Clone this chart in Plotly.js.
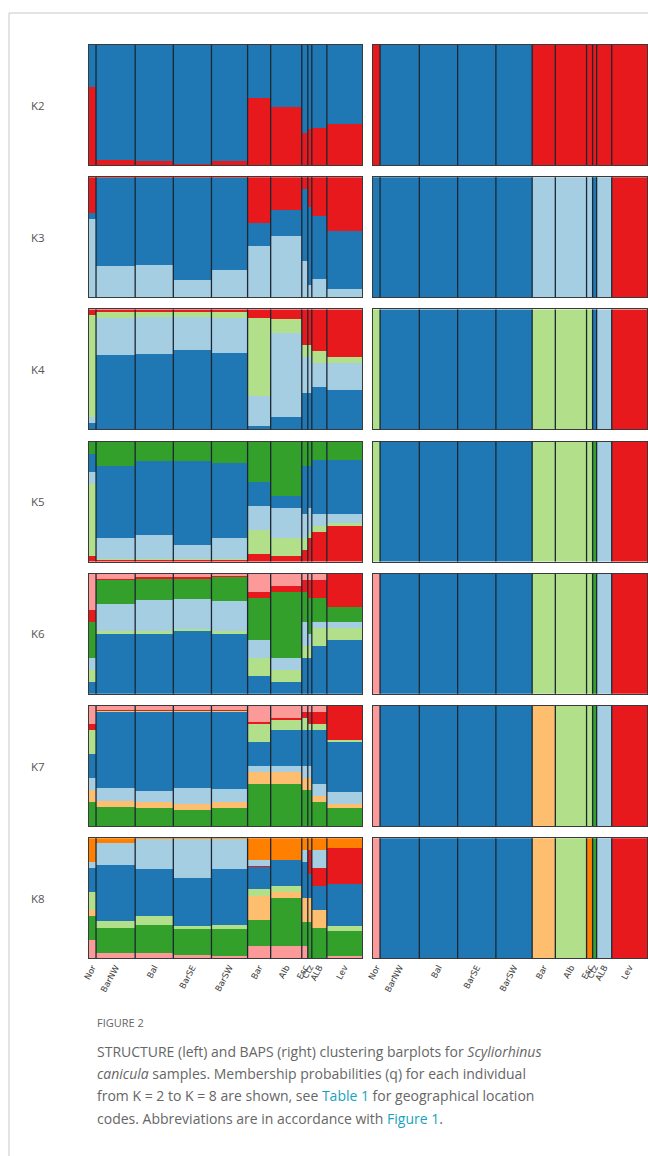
<!DOCTYPE html>
<html><head><meta charset="utf-8">
<script src="https://cdn.plot.ly/plotly-3.0.1.min.js"></script>
<style>html,body{margin:0;padding:0;background:#fff}#chart{width:648px;height:1156px}</style>
</head><body><div id="chart"></div>
<script>
// Population codes (x axis) and sample sizes (individuals per population)
const popLabels = ['Nor','BarNW','Bal','BarSE','BarSW','Bar','Alb','Esc','Ctz','ALB','Lev'];
const popSizes  = [7, 39, 38, 38, 36, 23, 31, 6, 4, 15, 35];
const rowLabels = ['K2','K3','K4','K5','K6','K7','K8'];

const palette = {blue:'#1f78b4', red:'#e8191c', lblue:'#a6cee3', lgreen:'#b2df8a',
  green:'#33a02c', pink:'#fb9a99', lorange:'#fdbf6f', orange:'#ff7f00'};

// ---- STRUCTURE (left), clusters listed bottom -> top, one value per population
const strK2Order = ['red','blue'];
const strK2 = [
  [0.65,0.04,0.03,0.01,0.03,0.56,0.48,0.27,0.30,0.31,0.34],
  [0.35,0.96,0.97,0.99,0.97,0.44,0.52,0.73,0.70,0.69,0.66]];
const strK3Order = ['lblue','blue','red'];
const strK3 = [
  [0.65,0.26,0.27,0.14,0.23,0.43,0.51,0.30,0.10,0.15,0.07],
  [0.05,0.73,0.72,0.85,0.76,0.19,0.22,0.60,0.65,0.53,0.48],
  [0.30,0.01,0.01,0.01,0.01,0.38,0.27,0.10,0.25,0.32,0.45]];
const strK4Order = ['blue','lblue','lgreen','red'];
const strK4 = [
  [0.05,0.62,0.63,0.66,0.64,0.03,0.10,0.30,0.30,0.35,0.33],
  [0.05,0.31,0.31,0.28,0.29,0.25,0.70,0.30,0.30,0.20,0.22],
  [0.85,0.05,0.04,0.04,0.05,0.65,0.12,0.10,0.10,0.10,0.05],
  [0.05,0.02,0.02,0.02,0.02,0.07,0.08,0.30,0.30,0.35,0.40]];
const strK5Order = ['red','lgreen','lblue','blue','green'];
const strK5 = [
  [0.05,0.01,0.01,0.01,0.01,0.06,0.05,0.10,0.20,0.25,0.30],
  [0.60,0.01,0.01,0.01,0.01,0.20,0.15,0.10,0.05,0.05,0.02],
  [0.10,0.18,0.20,0.12,0.18,0.20,0.25,0.20,0.20,0.10,0.08],
  [0.15,0.60,0.62,0.70,0.62,0.20,0.10,0.40,0.35,0.45,0.45],
  [0.10,0.20,0.16,0.16,0.18,0.34,0.45,0.20,0.20,0.15,0.15]];
const strK6Order = ['blue','lgreen','lblue','green','red','pink'];
const strK6 = [
  [0.10,0.50,0.50,0.52,0.50,0.15,0.10,0.30,0.30,0.40,0.45],
  [0.10,0.02,0.02,0.02,0.02,0.15,0.10,0.10,0.10,0.15,0.10],
  [0.10,0.23,0.26,0.25,0.25,0.15,0.10,0.20,0.10,0.05,0.05],
  [0.30,0.20,0.18,0.17,0.20,0.35,0.55,0.25,0.30,0.20,0.12],
  [0.10,0.01,0.01,0.01,0.01,0.05,0.05,0.10,0.15,0.15,0.28],
  [0.30,0.04,0.03,0.03,0.02,0.15,0.10,0.05,0.05,0.05,0.00]];
const strK7Order = ['green','lorange','lblue','blue','lgreen','red','pink'];
const strK7 = [
  [0.20,0.16,0.15,0.13,0.15,0.35,0.35,0.30,0.30,0.20,0.15],
  [0.10,0.05,0.05,0.05,0.05,0.10,0.10,0.10,0.10,0.05,0.03],
  [0.10,0.11,0.09,0.14,0.11,0.05,0.05,0.10,0.10,0.10,0.10],
  [0.20,0.63,0.66,0.63,0.64,0.20,0.30,0.30,0.30,0.45,0.42],
  [0.20,0.01,0.01,0.01,0.01,0.15,0.08,0.10,0.05,0.05,0.02],
  [0.05,0.01,0.01,0.01,0.01,0.02,0.02,0.05,0.10,0.10,0.28],
  [0.15,0.03,0.03,0.03,0.03,0.13,0.10,0.05,0.05,0.05,0.00]];
const strK8Order = ['pink','green','lorange','lgreen','blue','red','lblue','orange'];
const strK8 = [
  [0.15,0.04,0.04,0.03,0.02,0.10,0.10,0.10,0.00,0.00,0.02],
  [0.20,0.21,0.24,0.21,0.22,0.22,0.40,0.20,0.30,0.25,0.21],
  [0.05,0.00,0.00,0.00,0.00,0.20,0.05,0.20,0.20,0.15,0.00],
  [0.15,0.06,0.07,0.03,0.04,0.06,0.05,0.00,0.00,0.00,0.04],
  [0.20,0.47,0.39,0.40,0.46,0.18,0.22,0.30,0.20,0.20,0.35],
  [0.00,0.00,0.00,0.00,0.00,0.01,0.00,0.00,0.20,0.15,0.30],
  [0.05,0.18,0.25,0.32,0.25,0.05,0.00,0.10,0.00,0.15,0.00],
  [0.20,0.04,0.01,0.01,0.01,0.18,0.18,0.10,0.10,0.10,0.08]];

// ---- BAPS (right): cluster assigned to each population
const bapsK2 = ['red','blue','blue','blue','blue','red','red','red','red','red','red'];
const bapsK3 = ['blue','blue','blue','blue','blue','lblue','lblue','lblue','blue','lblue','red'];
const bapsK4 = ['lgreen','blue','blue','blue','blue','lgreen','lgreen','lgreen','blue','lblue','red'];
const bapsK5 = ['lgreen','blue','blue','blue','blue','lgreen','lgreen','lgreen','green','lblue','red'];
const bapsK6 = ['pink','blue','blue','blue','blue','lgreen','lgreen','lgreen','green','lblue','red'];
const bapsK7 = ['pink','blue','blue','blue','blue','lorange','lgreen','lgreen','green','lblue','red'];
const bapsK8 = ['pink','blue','blue','blue','blue','lorange','lgreen','orange','green','lblue','red'];

const strRows = [[strK2Order,strK2],[strK3Order,strK3],[strK4Order,strK4],[strK5Order,strK5],
                 [strK6Order,strK6],[strK7Order,strK7],[strK8Order,strK8]];
const bapsRows = [bapsK2,bapsK3,bapsK4,bapsK5,bapsK6,bapsK7,bapsK8];

// ---- geometry helpers
const W = 648, H = 1156;
const total = popSizes.reduce((a,b)=>a+b,0);
const starts = []; let acc = 0;
popSizes.forEach(s=>{starts.push(acc); acc += s;});
const centers = popSizes.map((s,i)=>starts[i]+s/2);
const colDom = [[89/W, 362/W],[373/W, 647/W]];
const rowTop = r => 45 + r*132.2;
const rowH = 120;

const data = [], layout = {
  width: W, height: H, margin:{l:0,r:0,t:0,b:0}, showlegend:false,
  paper_bgcolor:'#fff', plot_bgcolor:'#fff', barmode:'stack', bargap:0,
  font:{family:'Open Sans, sans-serif', color:'#555'},
  shapes:[], annotations:[]
};

function axName(i){ return i===1 ? '' : String(i); }

for (let r=0; r<7; r++){
  for (let c=0; c<2; c++){
    const idx = r*2 + c + 1, n = axName(idx);
    const xa = 'x'+n, ya = 'y'+n;
    const top = rowTop(r);
    layout['xaxis'+n] = {domain: colDom[c], range:[0,total], anchor: ya,
      showgrid:false, zeroline:false, fixedrange:true,
      showline:true, mirror:true, linecolor:'#3a3a3a', linewidth:1,
      showticklabels: r===6, ticks:'',
      tickvals: centers, ticktext: popLabels, tickangle:-62,
      tickfont:{size:8.5, color:'#3a3a3a', family:'DejaVu Sans, sans-serif'}};
    layout['yaxis'+n] = {domain:[1-(top+rowH)/H, 1-top/H], range:[0,1], anchor: xa,
      showgrid:false, zeroline:false, showticklabels:false, ticks:'', fixedrange:true,
      showline:true, mirror:true, linecolor:'#3a3a3a', linewidth:1};
    if (c===0){
      const [order, vals] = strRows[r];
      order.forEach((cl,k)=>{
        data.push({type:'bar', x:centers, y:vals[k], width:popSizes, xaxis:xa, yaxis:ya,
          marker:{color:palette[cl], line:{width:0}}, hoverinfo:'skip'});
      });
    } else {
      const assign = bapsRows[r];
      const clusters = [...new Set(assign)];
      clusters.forEach(cl=>{
        data.push({type:'bar', x:centers, y:assign.map(a=>a===cl?1:0), width:popSizes,
          xaxis:xa, yaxis:ya, marker:{color:palette[cl], line:{width:0}}, hoverinfo:'skip'});
      });
    }
    // population separators
    for (let p=1; p<popSizes.length; p++){
      layout.shapes.push({type:'line', xref:xa, yref:ya+' domain', x0:starts[p], x1:starts[p],
        y0:0, y1:1, line:{color:'#1c2733', width:1.3}});
    }
  }
  layout.annotations.push({text: rowLabels[r], xref:'paper', yref:'paper',
    x: 38/W, y: 1-(rowTop(r)+rowH/2)/H, xanchor:'center', yanchor:'middle',
    showarrow:false, font:{size:11.5, color:'#555'}});
}

// page frame
layout.shapes.push({type:'line', xref:'paper', yref:'paper', x0:9/W, x1:1, y0:1-13/H, y1:1-13/H, line:{color:'#c8c8c8', width:1}});
layout.shapes.push({type:'line', xref:'paper', yref:'paper', x0:9/W, x1:9/W, y0:1-13/H, y1:0, line:{color:'#c8c8c8', width:1}});

// caption
layout.annotations.push({text:'FIGURE 2', xref:'paper', yref:'paper', x:95/W, y:1-1022/H,
  xanchor:'left', yanchor:'middle', showarrow:false, font:{size:11, color:'#666'}});
const capLines = [
  'STRUCTURE (left) and BAPS (right) clustering barplots for <i>Scyliorhinus</i>',
  '<i>canicula</i> samples. Membership probabilities (q) for each individual',
  'from K = 2 to K = 8 are shown, see <span style="color:#17a2c0">Table 1</span> for geographical location',
  'codes. Abbreviations are in accordance with <span style="color:#17a2c0">Figure 1</span>.'];
capLines.forEach((t,i)=>{
  layout.annotations.push({text:t, xref:'paper', yref:'paper', x:95/W, y:1-(1051+i*22.4)/H,
    xanchor:'left', yanchor:'middle', showarrow:false, font:{size:14, color:'#666'}});
});

Plotly.newPlot('chart', data, layout, {staticPlot:true, displayModeBar:false});
</script></body></html>
